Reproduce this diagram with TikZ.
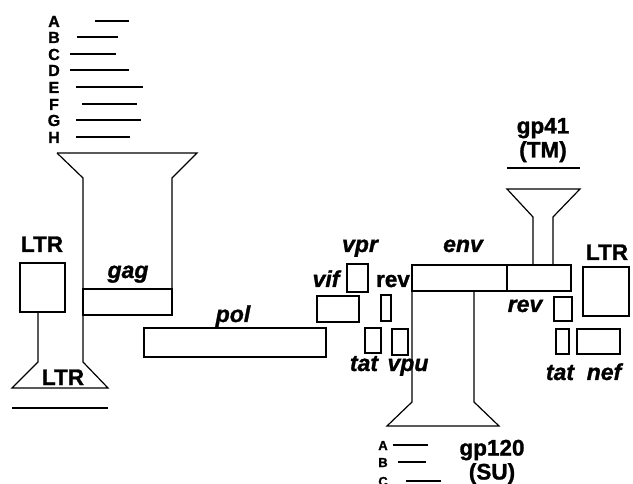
\documentclass[tikz,border=0pt]{standalone}
\usepackage{fontspec}
\setmainfont{Liberation Sans}[BoldFeatures={FakeBold=1.2},BoldItalicFeatures={FakeBold=1.2}]
\begin{document}
\begin{tikzpicture}[x=1pt,y=-1pt,
  outline/.style={draw=black,line width=1.2pt,line join=miter},
  thickline/.style={draw=black,line width=2.8pt},
  big/.style={inner sep=0pt,anchor=base,font=\fontsize{22.5}{23}\selectfont\bfseries},
  gene/.style={inner sep=0pt,anchor=base,font=\fontsize{23}{24}\selectfont\bfseries\itshape},
  letter/.style={inner sep=0pt,anchor=base,font=\fontsize{16}{16}\selectfont\bfseries},
  sletter/.style={inner sep=0pt,anchor=base,font=\fontsize{13}{14}\selectfont\bfseries}]
\useasboundingbox (0,0) rectangle (633,484);

% ---- letters A-H and lines (gag fragments)
\foreach \n/\ya/\xa/\xb in {A/21/95/129,B/37/77/118,C/54/70/116,D/70/70/129,E/87/76/143,F/104/82/137,G/120/76/141,H/137/76/130}{
  \node[letter] (l\n) at (54,\ya+6) {\n};
  \draw[thickline] (\xa,\ya) -- (\xb,\ya);
}

% ---- gag funnel + lower LTR trapezoid
\draw[outline] (57,153) -- (197,153) -- (172,178) -- (172,315);
\draw[outline] (57,153) -- (83,178) -- (83,362) -- (108,388) -- (12,388) -- (38,362) -- (38,312);
\draw[outline] (83,289) rectangle (172,315);
\draw[outline] (20,263) rectangle (65,312);
\draw[thickline] (12,408) -- (108,408);

\node[big] (ltrL) at (42,252) {LTR};
\node[big] (ltrB) at (63,385) {LTR};
\node[gene] (gag) at (128,278) {gag};

% ---- pol
\draw[outline] (144,328) rectangle (326,357);
\node[gene] (pol) at (233,322) {pol};

% ---- small genes
\draw[outline] (317,296) rectangle (359,322); % vif
\draw[outline] (347,264) rectangle (368,292); % vpr
\draw[outline] (381,295) rectangle (391,321); % rev exon 1
\draw[outline] (365,328) rectangle (381,353); % tat exon 1
\draw[outline] (392,329) rectangle (408,355); % vpu
\node[gene] (vpr) at (360,252) {vpr};
\node[gene] (vif) at (326,287) {vif};
\node[big] (rev1) at (393,287) {rev};
\node[gene] (tat1) at (364,371) {tat};
\node[gene] (vpu) at (408,371) {vpu};

% ---- env, gp120, gp41
\draw[outline] (412,265) rectangle (571,291);
\draw[outline] (507,265) -- (507,291);
\node[gene] (env) at (463,252) {env};
\draw[outline] (412,291) -- (412,402) -- (387,426) -- (499,426) -- (474,402) -- (474,291);
\draw[outline] (533,265) -- (533,217) -- (507,189) -- (580,189) -- (553,217) -- (553,265);
\draw[thickline,line width=2.4pt] (507,168) -- (580,168);
\node[big] (gp41) at (543,133.5) {gp41};
\node[big] (tm) at (543,157.5) {(TM)};

% ---- right LTR and 3' genes
\draw[outline] (583,267) rectangle (629,316);
\node[big] (ltrR) at (607,260) {LTR};
\draw[outline] (554,297) rectangle (572,321); % rev exon 2
\node[gene] (rev2) at (525,312) {rev};
\draw[outline] (556,329) rectangle (569,354); % tat exon 2
\draw[outline] (577,329) rectangle (620,354); % nef
\node[gene] (tat2) at (560,380) {tat};
\node[gene] (nef) at (604,380) {nef};

% ---- gp120 labels
\node[big] (gp120) at (492,455.5) {gp120};
\node[big] (su) at (492,479.5) {(SU)};
\foreach \n/\ya/\xa/\xb in {A/445/393/428,B/462/398/426,C/481/406/441}{
  \node[sletter] (s\n) at (383,\ya+5) {\n};
  \draw[thickline,line width=2.2pt] (\xa,\ya) -- (\xb,\ya);
}
\end{tikzpicture}
\end{document}
